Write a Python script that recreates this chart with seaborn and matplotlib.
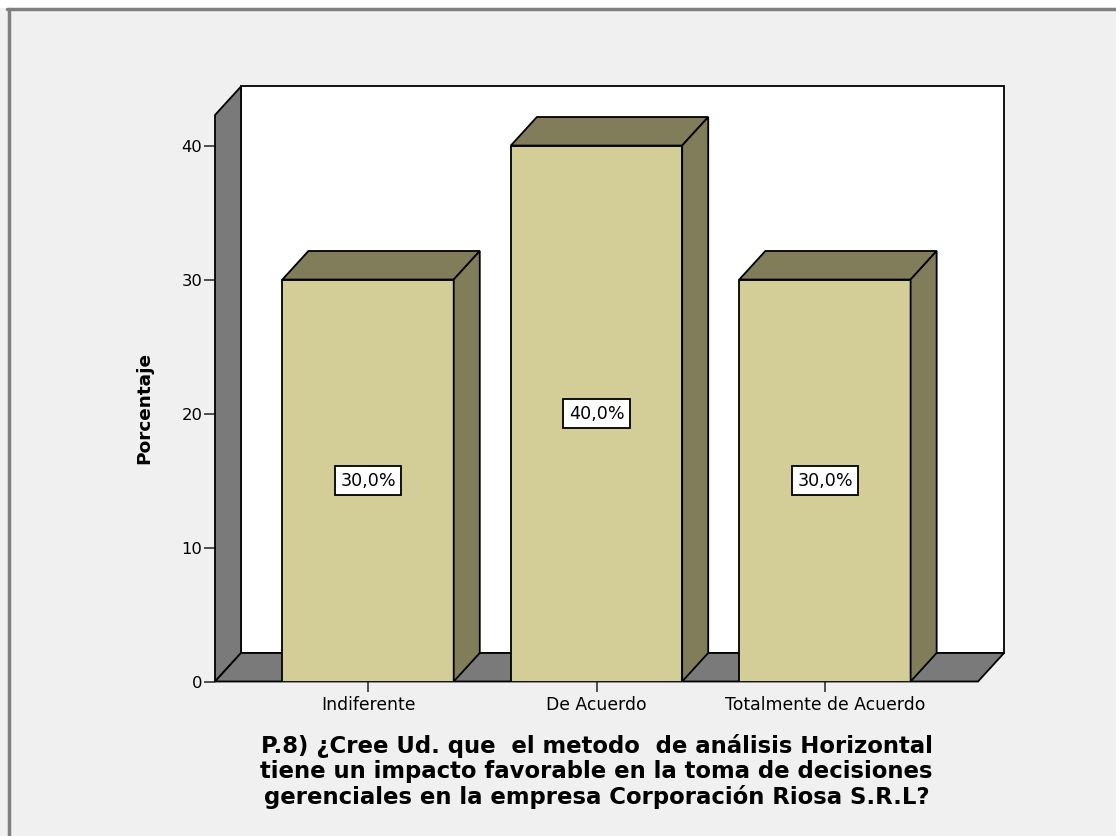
import numpy as np
import pandas as pd
import matplotlib
matplotlib.use("Agg")
import matplotlib.pyplot as plt
from matplotlib.patches import Polygon, Rectangle
from matplotlib.lines import Line2D
import seaborn as sns

# data
categorias = ["Indiferente", "De Acuerdo", "Totalmente de Acuerdo"]
porcentajes = [30.0, 40.0, 30.0]
etiquetas = ["30,0%", "40,0%", "30,0%"]
yticks = [0, 10, 20, 30, 40]
titulo = ("P.8) ¿Cree Ud. que  el metodo  de análisis Horizontal\n"
          "tiene un impacto favorable en la toma de decisiones\n"
          "gerenciales en la empresa Corporación Riosa S.R.L?")

# styling
bg = "#F0F0F0"
front = "#D3CE98"
dark = "#817D5B"
wall = "#7A7A7A"
XMIN, XMAX, YTOP = -0.67, 2.67, 42.28
DX, DY = 0.114, 2.13   # fake 3d depth in data units

sns.set_theme(style="white")
plt.rcParams["font.family"] = ["DejaVu Sans"]
plt.rcParams["text.color"] = "black"
plt.rcParams["axes.labelcolor"] = "black"
plt.rcParams["xtick.color"] = "black"
plt.rcParams["ytick.color"] = "black"

df = pd.DataFrame({"cat": categorias, "pct": porcentajes})

fig = plt.figure(figsize=(11.16, 8.36), dpi=100, facecolor=bg)
ax = fig.add_axes([215 / 1116, (836 - 681.5) / 836, 763 / 1116, 566.5 / 836])
ax.set_facecolor("none")

sns.barplot(data=df, x="cat", y="pct", ax=ax, color=front, saturation=1, width=0.75,
            edgecolor="black", linewidth=1.3, zorder=2)
bars = list(ax.containers[0])

ax.set_xlim(XMIN, XMAX)
ax.set_ylim(0, YTOP)

# back plane, left wall and floor
ax.add_patch(Rectangle((XMIN + DX, DY), XMAX - XMIN, YTOP, fc="white", ec="black",
                       lw=1.3, zorder=0.5, clip_on=False))
ax.add_patch(Polygon([(XMIN, 0), (XMIN, YTOP), (XMIN + DX, YTOP + DY), (XMIN + DX, DY)],
                     closed=True, fc=wall, ec="black", lw=1.3, zorder=0.6, clip_on=False))
ax.add_patch(Polygon([(XMIN, 0), (XMAX, 0), (XMAX + DX, DY), (XMIN + DX, DY)],
                     closed=True, fc=wall, ec="black", lw=1.3, zorder=0.6, clip_on=False))

# tops and sides of each bar
for p in bars:
    x0, w, h = p.get_x(), p.get_width(), p.get_height()
    x1 = x0 + w
    ax.add_patch(Polygon([(x0, h), (x1, h), (x1 + DX, h + DY), (x0 + DX, h + DY)], closed=True,
                         fc=dark, ec="black", lw=1.3, zorder=2.1, clip_on=False))
    ax.add_patch(Polygon([(x1, 0), (x1, h), (x1 + DX, h + DY), (x1 + DX, DY)], closed=True,
                         fc=dark, ec="black", lw=1.3, zorder=2.1, clip_on=False))

ax.bar_label(ax.containers[0], labels=etiquetas, label_type="center", fontsize=12.6,
             color="black", zorder=3,
             bbox=dict(boxstyle="square,pad=0.3", fc="white", ec="black", lw=1.3))

for s in ax.spines.values():
    s.set_visible(False)
ax.set_yticks(yticks)
ax.set_yticklabels([str(t) for t in yticks])
ax.tick_params(axis="y", direction="out", length=8, width=1.2, color="#333333",
               labelsize=11.8, pad=1, left=True, labelcolor="black")
ax.tick_params(axis="x", direction="out", length=7.5, width=1.2, color="#333333",
               labelsize=12.4, pad=3, bottom=True, labelcolor="black")

ax.set_ylabel("Porcentaje", fontsize=13.3, fontweight="bold", color="black")
ax.yaxis.set_label_coords((153 - 215) / 763, (681.5 - 408) / 566.5)
ax.set_xlabel(titulo, fontsize=16.4, fontweight="bold", linespacing=1.12, color="black")
ax.xaxis.set_label_coords(0.5, (681.5 - 734) / 566.5)

# window frame
fig.patches.append(Rectangle((0, 1 - 8 / 836), 1, 8 / 836, transform=fig.transFigure,
                             fc="white", ec="none", zorder=-1))
fig.add_artist(Line2D([8.5 / 1116, 8.5 / 1116], [0, 1 - 9 / 836], color="#7F7F7F", lw=2.5))
fig.add_artist(Line2D([7 / 1116, 1], [1 - 9 / 836, 1 - 9 / 836], color="#7F7F7F", lw=2.5))

fig.savefig("out.png", dpi=100, facecolor=bg)
